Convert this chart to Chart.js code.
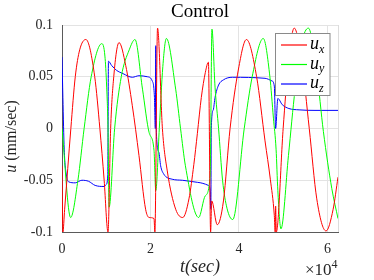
<!DOCTYPE html>
<html>
<head>
<meta charset="utf-8">
<script src="https://cdn.jsdelivr.net/npm/chart.js@4.4.1/dist/chart.umd.min.js"></script>
<style>
  html, body { margin: 0; padding: 0; background: #fff; }
  #wrap { width: 374px; height: 280px; }
</style>
</head>
<body>
<div id="wrap"><canvas id="chart" width="374" height="280"></canvas></div>
<script>
// time in seconds, values in mm/sec
const uxT = [0, 200, 600, 2000, 3000, 4000, 5400, 7400, 8560, 9530, 10400, 11000, 11700, 12900, 14400, 15900, 17400, 18900, 19700, 20800, 21000, 21600, 22700, 23800, 25700, 27300, 28700, 29800, 30600, 31500, 32400, 33100, 33600, 33850, 35100, 36500, 38000, 39900, 41700, 44000, 45900, 47100, 48000, 48200, 48300, 48450, 50000, 51200, 52500, 54200, 55900, 57600, 59700, 61300, 62400];
const ux = [-0.036, -0.1, -0.078, 0.0, 0.05, 0.076, 0.086, 0.05, 0.0, -0.05, -0.1, 0.0, 0.05, 0.083, 0.061, 0.022, -0.026, -0.078, -0.086, -0.087, -0.1, 0.097, 0.0, -0.041, -0.078, -0.086, -0.068, -0.035, -0.005, 0.03, 0.054, 0.064, -0.1, -0.07, -0.093, -0.07, 0.0, 0.0575, 0.086, 0.05, -0.012, -0.049, -0.084, -0.1, -0.075, -0.1, 0.0, 0.064, 0.097, 0.065, 0.0, -0.068, -0.099, -0.078, -0.047];

const uyT = [0, 1950, 3600, 5000, 6600, 9000, 9700, 10100, 10400, 10650, 11900, 13400, 15200, 16500, 18200, 19700, 20800, 21200, 22000, 22800, 23600, 25700, 26800, 27900, 30900, 32400, 33500, 33900, 34600, 35400, 36300, 37300, 38600, 41200, 43000, 45500, 47000, 47800, 48400, 48800, 49500, 51200, 52700, 54200, 55700, 57600, 59100, 61000, 62400];
const uy = [0.0, -0.086, -0.05, 0.0, 0.05, 0.082, 0.07, 0.04, 0.0, -0.076, 0.0, 0.05, 0.076, 0.086, 0.038, -0.004, -0.021, -0.06, 0.0, 0.06, 0.087, 0.038, 0.0, -0.036, -0.086, -0.065, -0.045, 0.096, 0.04, 0.0, -0.05, -0.077, -0.088, 0.0, 0.05, 0.087, 0.05, 0.01, -0.02, -0.06, -0.097, -0.026, 0.038, 0.083, 0.097, 0.054, -0.003, -0.058, -0.087];

const uzT = [0, 200, 500, 1000, 1500, 3000, 4500, 6000, 7500, 9500, 10000, 10350, 10500, 11200, 12300, 13800, 15900, 17400, 19300, 20400, 20900, 21100, 21200, 21300, 21900, 22300, 23000, 24900, 27200, 30600, 33100, 33500, 33650, 33750, 34200, 34600, 35400, 36500, 38500, 45900, 47450, 48000, 48300, 48800, 49800, 51300, 53600, 57200, 62400];
const uz = [0.069, 0.03, -0.02, -0.045, -0.0515, -0.0525, -0.05, -0.051, -0.055, -0.056, -0.054, -0.045, 0.065, 0.061, 0.0563, 0.053, 0.0495, 0.051, 0.05, 0.046, 0.03, 0.0, 0.08, 0.0, -0.023, -0.036, -0.044, -0.049, -0.05, -0.052, -0.055, -0.06, -0.078, 0.0, 0.018, 0.03, 0.042, 0.047, 0.0495, 0.0485, 0.046, 0.041, 0.0, 0.029, 0.023, 0.0193, 0.018, 0.0175, 0.0175];

const seriesNames = ['x', 'y', 'z'];
const seriesColors = ['#ff0000', '#00ff00', '#0000ff'];
const xTicks = [0, 20000, 40000, 60000];
const yTicks = [-0.1, -0.05, 0, 0.05, 0.1];
const yTickLabels = ['-0.1', '-0.05', '0', '0.05', '0.1'];

const serif = "'Liberation Serif', 'Times New Roman', serif";

function pts(ts, vs) {
  return ts.map(function(t, i) { return { x: t, y: vs[i] }; });
}

// title, axis labels, exponent and legend drawn onto the canvas
const labelsPlugin = {
  id: 'labels',
  afterDraw(chart) {
    const ctx = chart.ctx;
    const a = chart.chartArea;
    ctx.save();

    ctx.strokeStyle = '#dcdcdc';
    ctx.lineWidth = 1;
    ctx.beginPath();
    ctx.moveTo(a.right + 0.5, a.top);
    ctx.lineTo(a.right + 0.5, a.bottom);
    ctx.stroke();

    ctx.fillStyle = '#000';
    ctx.textBaseline = 'alphabetic';
    ctx.textAlign = 'center';
    ctx.font = '19px ' + serif;
    ctx.fillText('Control', (a.left + a.right) / 2, 17);

    ctx.font = 'italic 18px ' + serif;
    ctx.fillStyle = '#262626';
    ctx.fillText('t(sec)', (a.left + a.right) / 2, 271.5);

    ctx.textAlign = 'left';
    ctx.font = '17px ' + serif;
    ctx.fillText('\u00d710', 305, 275);
    ctx.font = '12px ' + serif;
    ctx.fillText('4', 331.5, 268);

    // y label, italic u
    ctx.save();
    ctx.translate(16, 136.5);
    ctx.rotate(-Math.PI / 2);
    ctx.font = 'italic 16px ' + serif;
    const wu = ctx.measureText('u').width;
    ctx.font = '16px ' + serif;
    const wr = ctx.measureText(' (mm/sec)').width;
    const x0 = -(wu + wr) / 2;
    ctx.font = 'italic 16px ' + serif;
    ctx.fillText('u', x0, 0);
    ctx.font = '16px ' + serif;
    ctx.fillText(' (mm/sec)', x0 + wu, 0);
    ctx.restore();

    // legend box
    const bx = 275.5, by = 33.5, bw = 54.5, bh = 62;
    ctx.fillStyle = '#fff';
    ctx.fillRect(bx, by, bw, bh);
    ctx.strokeStyle = '#8a8a8a';
    ctx.strokeRect(bx, by, bw, bh);
    const rows = [45, 64.5, 84];
    seriesNames.forEach(function(name, i) {
      const y = rows[i];
      ctx.strokeStyle = seriesColors[i];
      ctx.lineWidth = 1.2;
      ctx.beginPath();
      ctx.moveTo(281, y);
      ctx.lineTo(307, y);
      ctx.stroke();
      ctx.fillStyle = '#000';
      ctx.font = 'italic 18px ' + serif;
      ctx.fillText('u', 310, y + 4);
      const w = ctx.measureText('u').width;
      ctx.font = 'italic 12px ' + serif;
      ctx.fillText(name, 310 + w, y + 7.5);
    });

    ctx.restore();
  }
};

function draw() {
  new Chart(document.getElementById('chart'), {
    type: 'line',
    data: {
      datasets: [
        { label: 'u_x', data: pts(uxT, ux), borderColor: seriesColors[0] },
        { label: 'u_y', data: pts(uyT, uy), borderColor: seriesColors[1] },
        { label: 'u_z', data: pts(uzT, uz), borderColor: seriesColors[2] }
      ]
    },
    options: {
      responsive: false,
      animation: false,
      layout: { padding: { top: 25, right: 36, bottom: 0, left: 0 } },
      elements: {
        line: { borderWidth: 1, cubicInterpolationMode: 'monotone', fill: false },
        point: { radius: 0 }
      },
      plugins: {
        legend: { display: false },
        title: { display: false },
        tooltip: { enabled: false }
      },
      scales: {
        x: {
          type: 'linear',
          min: 0,
          max: 62400,
          afterFit: function(s) { s.height = 48; },
          afterBuildTicks: function(s) { s.ticks = xTicks.map(function(v) { return { value: v }; }); },
          grid: { color: '#e3e3e3', drawTicks: false },
          border: { color: '#5a5a5a', width: 1 },
          ticks: {
            padding: 9,
            color: '#262626',
            font: { family: serif, size: 14 },
            maxRotation: 0,
            callback: function(v) { return String(v / 10000); }
          }
        },
        y: {
          type: 'linear',
          min: -0.1,
          max: 0.1,
          afterFit: function(s) { s.width = 62; },
          afterBuildTicks: function(s) { s.ticks = yTicks.map(function(v) { return { value: v }; }); },
          grid: { color: '#e3e3e3', drawTicks: false },
          border: { color: '#5a5a5a', width: 1 },
          ticks: {
            padding: 9,
            color: '#262626',
            font: { family: serif, size: 14 },
            callback: function(v) {
              const i = yTicks.findIndex(function(t) { return Math.abs(t - v) < 1e-9; });
              return i >= 0 ? yTickLabels[i] : '';
            }
          }
        }
      }
    },
    plugins: [labelsPlugin]
  });
}

// wait for the serif face so the first paint uses it
Promise.all([
  document.fonts.load('14px "Liberation Serif"'),
  document.fonts.load('italic 16px "Liberation Serif"')
]).then(draw, draw);
</script>
</body>
</html>
